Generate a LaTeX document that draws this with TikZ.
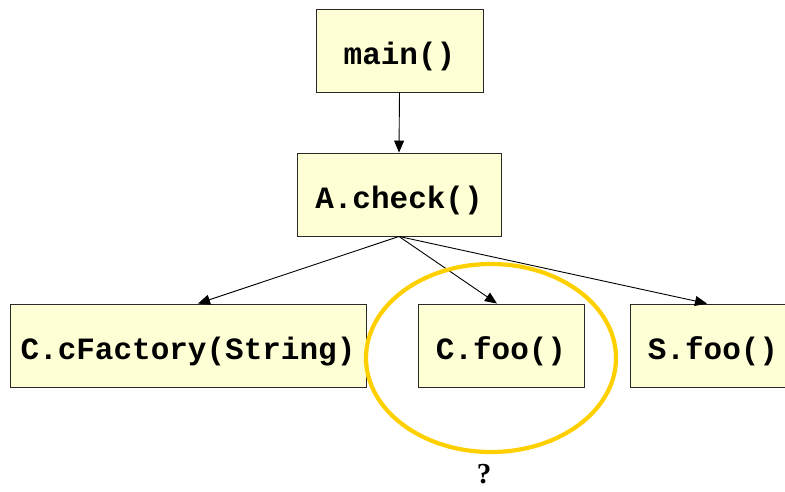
\documentclass[tikz,border=0pt]{standalone}
\usepackage{fontspec}
\setmainfont{Liberation Serif}
\setmonofont{Liberation Mono}
\usetikzlibrary{arrows.meta}
\definecolor{boxfill}{RGB}{255,255,214}
\definecolor{boxline}{RGB}{40,40,40}
\definecolor{ringcol}{RGB}{255,208,0}
\tikzset{
  callbox/.style={draw=boxline, line width=0.9pt, fill=boxfill, inner sep=0pt,
    minimum height=83pt, text height=34pt, text depth=6pt,
    font=\fontsize{31}{31}\selectfont\ttfamily\bfseries},
  callarrow/.style={draw=black, line width=0.9pt, -{Triangle[length=12pt,width=10pt]}},
  ring/.style={draw=ringcol, line width=4.2pt},
}
\begin{document}
\begin{tikzpicture}[x=1pt,y=-1pt]
  \useasboundingbox (0,0) rectangle (785,491);
  \begin{scope}
    \clip (0,0) rectangle (785,491);
    \node[callbox, minimum width=167pt] (main) at (399.5,50.5) {main()};
    \node[callbox, minimum width=204pt] (check) at (399,194.5) {A.check()};
    \node[callbox, minimum width=356pt] (factory) at (188,345.5) {C.cFactory(String)};
    \node[callbox, minimum width=166pt] (cfoo) at (501,345.5) {C.foo()};
    \node[callbox, minimum width=166pt] (sfoo) at (713,345.5) {S.foo()};
    \draw[callarrow] (main.south) -- (check.north);
    \draw[callarrow] (check.south) -- ([xshift=10pt]factory.north);
    \draw[callarrow] (check.south) -- ([xshift=-4pt]cfoo.north);
    \draw[callarrow] (check.south) -- ([xshift=-6pt]sfoo.north);
    \draw[ring] (491,358) ellipse [x radius=125, y radius=94];
    \node[inner sep=0pt, font=\fontsize{29}{29}\selectfont\bfseries] (q) at (484,474) {?};
  \end{scope}
\end{tikzpicture}
\end{document}
